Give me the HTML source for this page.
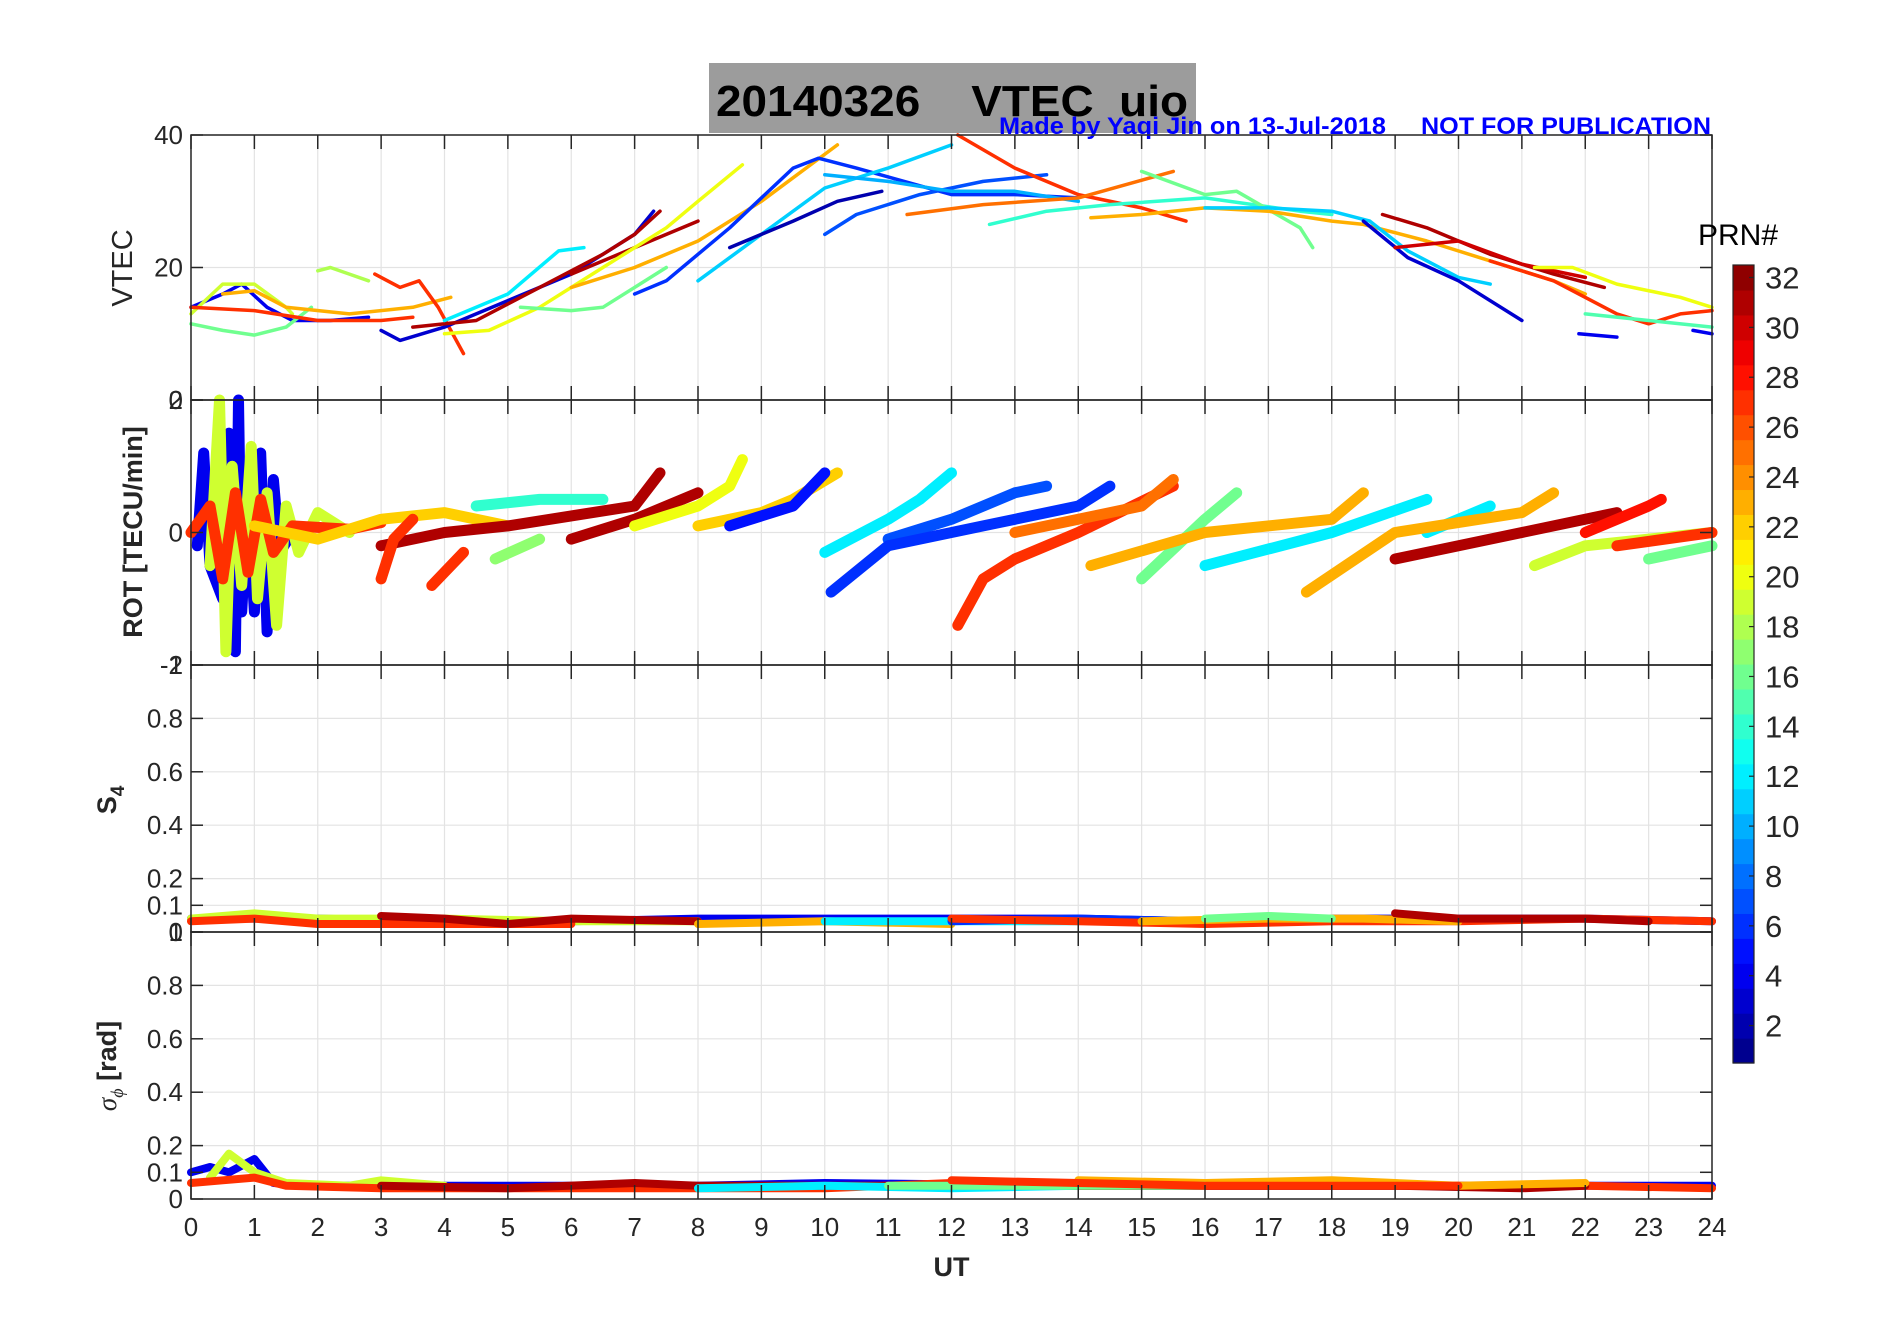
<!DOCTYPE html>
<html><head><meta charset="utf-8"><style>
html,body{margin:0;padding:0;background:#fff;}
svg{display:block;}
text{white-space:pre;}
</style></head><body>
<svg id="fig" width="1902" height="1330" viewBox="0 0 1902 1330" xmlns="http://www.w3.org/2000/svg" font-family="'Liberation Sans', sans-serif" xml:space="preserve">
<rect x="0" y="0" width="1902" height="1330" fill="#fff"/>
<rect x="709" y="63" width="487" height="70" fill="#9c9c9c"/>
<text x="716" y="116" font-family="'Liberation Sans Narrow','Liberation Sans',sans-serif" font-weight="bold" font-size="44" textLength="472" lengthAdjust="spacingAndGlyphs" fill="#000">20140326    VTEC  uio</text>
<text x="999" y="134" font-family="'Liberation Sans Narrow','Liberation Sans',sans-serif" font-weight="bold" font-size="24" textLength="387" lengthAdjust="spacingAndGlyphs" fill="#0000ff">Made by Yaqi Jin on 13-Jul-2018</text>
<text x="1421" y="134" font-family="'Liberation Sans Narrow','Liberation Sans',sans-serif" font-weight="bold" font-size="24" textLength="290" lengthAdjust="spacingAndGlyphs" fill="#0000ff">NOT FOR PUBLICATION</text>
<g id="plots"></g>
</svg>
<script>
// ---------------- data ----------------
const hourTicks = [0,1,2,3,4,5,6,7,8,9,10,11,12,13,14,15,16,17,18,19,20,21,22,23,24];
const vtecTicks = [0,20,40];
const rotTicks = [-2,0,2];
const s4Ticks = [0,0.1,0.2,0.4,0.6,0.8,1];
const sigTicks = [0,0.1,0.2,0.4,0.6,0.8,1];
const cbarTicks = [2,4,6,8,10,12,14,16,18,20,22,24,26,28,30,32];

// VTEC arcs: PRN and [UT, TEC] points
const vtecPrn = [4,16,18,19,27,23,27,3,31,31,12,20,16,23,6,11,2,7,10,27,25,14,16,23,11,3,31,30,20,27,15,4,4];
const vtecArcs = [
 [[0,14],[0.5,16],[0.8,17.5],[1.2,14],[1.6,12],[2.2,12],[2.8,12.5]],
 [[0,11.5],[0.5,10.5],[1,9.8],[1.5,11],[1.9,14]],
 [[2,19.5],[2.2,20],[2.5,19],[2.8,18]],
 [[0,13],[0.5,17.5],[1,17.5],[1.5,14],[1.6,13]],
 [[0,14],[1,13.5],[2,12],[3,12],[3.5,12.5]],
 [[0.5,16],[1,16.5],[1.5,14],[2.5,13],[3.5,14],[4.1,15.5]],
 [[2.9,19],[3.3,17],[3.6,18],[3.9,14],[4.3,7]],
 [[3,10.5],[3.3,9],[4,11],[5,15],[6,19],[7,25],[7.3,28.5]],
 [[3.5,11],[4.5,12],[5.5,17],[6.5,22],[7,25],[7.4,28.5]],
 [[6,19],[7,23],[7.5,25],[8,27]],
 [[4,12],[5,16],[5.8,22.5],[6.2,23]],
 [[4,10],[4.7,10.5],[5.5,14],[6.5,20],[7.5,26],[8,30],[8.7,35.5]],
 [[5.2,14],[6,13.5],[6.5,14],[7.5,20]],
 [[6,17],[7,20],[8,24],[9,30],[10.2,38.5]],
 [[7,16],[7.5,18],[8.5,26],[9.5,35],[9.9,36.5],[10.5,35],[12,31],[13,31],[14,30.5]],
 [[8,18],[9,25],[10,32],[11,35],[12,38.5]],
 [[8.5,23],[9.5,27],[10.2,30],[10.9,31.5]],
 [[10,25],[10.5,28],[11.5,31],[12.5,33],[13.5,34]],
 [[10,34],[11,33],[12,31.5],[13,31.5],[14,30]],
 [[12.1,40],[13,35],[14,31],[15,29],[15.7,27]],
 [[11.3,28],[12.5,29.5],[14,30.5],[15.5,34.5]],
 [[12.6,26.5],[13.5,28.5],[14.5,29.5],[16,30.5],[17.5,28.5],[18,28]],
 [[15,34.5],[16,31],[16.5,31.5],[17.5,26],[17.7,23]],
 [[14.2,27.5],[15,28],[16,29],[17,28.5],[18,27],[18.5,26.5],[19.5,24],[20.5,21],[21.5,18],[22,16]],
 [[16,29],[17,29],[18,28.5],[18.6,27],[19.2,22.5],[20,18.5],[20.5,17.5]],
 [[18.5,27],[19.2,21.5],[20,18],[21,12]],
 [[18.8,28],[19.5,26],[20.5,22],[21.5,19],[22.3,17]],
 [[19,23],[20,24],[21,20.5],[22,18.5]],
 [[21.2,20],[21.8,20],[22.5,17.5],[23.5,15.5],[24,14]],
 [[20.5,21],[21.5,18],[22.5,13],[23,11.5],[23.5,13],[24,13.5]],
 [[22,13],[23,12],[24,11]],
 [[21.9,10],[22.5,9.5]],
 [[23.7,10.5],[24,10]]
];

// ROT arcs: PRN and [UT, ROT] points
const rotPrn = [4,19,27,22,14,31,31,20,22,5,12,7,6,27,25,16,23,12,12,23,31,28,19,27,16,27,27,17];
const rotArcs = [
 [[0.1,-0.2],[0.2,1.2],[0.3,-0.5],[0.5,-1],[0.6,1.5],[0.7,-1.8],[0.75,2],[0.8,-1.2],[0.9,0.5],[1,-1.2],[1.1,1.2],[1.2,-1.5],[1.3,0.8],[1.4,-0.3],[1.6,0]],
 [[0.3,-0.5],[0.45,2],[0.55,-1.8],[0.65,1],[0.8,-0.8],[0.95,1.3],[1.05,-1],[1.2,0.6],[1.35,-1.4],[1.5,0.4],[1.7,-0.3],[2,0.3],[2.5,0]],
 [[0,0],[0.3,0.4],[0.5,-0.7],[0.7,0.6],[0.9,-0.6],[1.1,0.5],[1.3,-0.3],[1.6,0.1],[2.5,0.05],[3,0.15]],
 [[1,0.1],[2,-0.1],[3,0.2],[4,0.3],[5,0.1]],
 [[4.5,0.4],[5.5,0.5],[6.5,0.5]],
 [[3,-0.2],[4,0],[5,0.1],[6,0.25],[7,0.4],[7.4,0.9]],
 [[6,-0.1],[7,0.2],[8,0.6]],
 [[7,0.1],[8,0.4],[8.5,0.7],[8.7,1.1]],
 [[8,0.1],[9,0.3],[9.5,0.5],[10.2,0.9]],
 [[8.5,0.1],[9.5,0.4],[10,0.9]],
 [[10,-0.3],[11,0.2],[11.5,0.5],[12,0.9]],
 [[11,-0.1],[12,0.2],[13,0.6],[13.5,0.7]],
 [[10.1,-0.9],[11,-0.2],[12.5,0.1],[14,0.4],[14.5,0.7]],
 [[12.1,-1.4],[12.5,-0.7],[13,-0.4],[14,0],[15.5,0.7]],
 [[13,0],[14,0.2],[15,0.4],[15.5,0.8]],
 [[15,-0.7],[16,0.2],[16.5,0.6]],
 [[14.2,-0.5],[16,0],[18,0.2],[18.5,0.6]],
 [[16,-0.5],[18,0],[19.5,0.5]],
 [[19.5,0],[20.5,0.4]],
 [[17.6,-0.9],[19,0],[21,0.3],[21.5,0.6]],
 [[19,-0.4],[21,0],[22.5,0.3]],
 [[22,0],[23,0.4],[23.2,0.5]],
 [[21.2,-0.5],[22,-0.2],[24,0]],
 [[22.5,-0.2],[24,0]],
 [[23,-0.4],[24,-0.2]],
 [[3,-0.7],[3.2,-0.1],[3.5,0.2]],
 [[3.8,-0.8],[4.3,-0.3]],
 [[4.8,-0.4],[5.5,-0.1]]
];

// S4 arcs: PRN and [UT, S4]
const s4Prn = [4,19,27,31,23,12,6,27,23,31,16];
const s4Arcs = [
 [[0,0.05],[2,0.05],[4,0.04],[6,0.04],[8,0.05],[10,0.05],[12,0.05],[14,0.05],[16,0.04],[18,0.05],[20,0.05],[22,0.05],[24,0.04]],
 [[0,0.05],[1,0.07],[2,0.05],[4,0.05],[6,0.04],[8,0.04]],
 [[0,0.04],[1,0.05],[2,0.03],[4,0.03],[6,0.03]],
 [[3,0.06],[4,0.05],[5,0.03],[6,0.05],[8,0.04]],
 [[8,0.03],[10,0.04],[12,0.03]],
 [[10,0.04],[12,0.04],[14,0.04]],
 [[12,0.04],[14,0.05],[16,0.04],[18,0.05]],
 [[12,0.05],[14,0.04],[16,0.03],[18,0.04],[20,0.04],[22,0.05],[24,0.04]],
 [[15,0.04],[17,0.05],[18.5,0.05],[20,0.04]],
 [[19,0.07],[20,0.05],[22,0.05],[23,0.04]],
 [[16,0.05],[17,0.06],[18,0.05]]
];

// sigma-phi arcs: PRN and [UT, sigma]
const sigPrn = [4,19,27,31,12,23,16,27];
const sigArcs = [
 [[0,0.1],[0.3,0.12],[0.6,0.1],[1,0.15],[1.3,0.06],[2,0.05],[4,0.05],[8,0.05],[10,0.06],[14,0.05],[18,0.05],[24,0.05]],
 [[0.3,0.08],[0.6,0.17],[1,0.1],[1.5,0.06],[2.5,0.05],[3,0.07],[4,0.05]],
 [[0,0.06],[0.5,0.07],[1,0.08],[1.5,0.05],[3,0.04],[6,0.04],[10,0.04],[12,0.06],[14,0.05],[18,0.05],[22,0.05],[24,0.04]],
 [[3,0.05],[5,0.04],[7,0.06],[8,0.05],[19,0.05],[21,0.04],[22,0.05]],
 [[8,0.04],[10,0.05],[12,0.04],[14,0.05]],
 [[14,0.07],[16,0.06],[18,0.07],[20,0.05],[22,0.06]],
 [[11,0.05],[13,0.05],[16,0.05]],
 [[12,0.07],[14,0.06],[16,0.05],[20,0.05]]
];

// ---------------- layout ----------------
const NS = 'http://www.w3.org/2000/svg';
const L = 191, R = 1712;
const panels = [
  {top:135, bot:400, min:0, max:40},
  {top:400, bot:665, min:-2, max:2},
  {top:665, bot:932, min:0, max:1},
  {top:932, bot:1199, min:0, max:1}
];
function xs(t){ return L + t*(R-L)/24; }
function ys(p,v){ return p.bot - (v-p.min)/(p.max-p.min)*(p.bot-p.top); }
function jet(n){
  const v = (n-0.5)/32;
  const c = x => Math.round(255*Math.max(0,Math.min(1,x)));
  return 'rgb('+c(1.5-Math.abs(4*v-3))+','+c(1.5-Math.abs(4*v-2))+','+c(1.5-Math.abs(4*v-1))+')';
}
const root = document.getElementById('plots');
function mk(tag, attrs, parent){
  const e = document.createElementNS(NS, tag);
  for (const k in attrs) e.setAttribute(k, attrs[k]);
  (parent||root).appendChild(e);
  return e;
}
const narrow = "'Liberation Sans Narrow','Liberation Sans',sans-serif";

// grids
panels.forEach((p, pi) => {
  const g = mk('g', {});
  
  
  hourTicks.forEach(h => {
    const ln = mk('line', {x1:xs(h), x2:xs(h), y1:p.top, y2:p.bot, stroke:'#e3e3e3', 'stroke-width':1.2}, g);
    
    
  });
  const tk = [vtecTicks, rotTicks, s4Ticks, sigTicks][pi];
  tk.forEach(v => {
    const ln = mk('line', {x1:L, x2:R, y1:ys(p,v), y2:ys(p,v), stroke:'#e3e3e3', 'stroke-width':1.2}, g);
    
    
  });
});

// series
function drawArcs(p, arcs, prns, width, name){
  const g = mk('g', {'stroke-linejoin':'round', 'stroke-linecap':'round', fill:'none'});
  
  
  arcs.forEach((arc, i) => {
    const pts = arc.map(q => xs(q[0]).toFixed(1) + ',' + ys(p, q[1]).toFixed(1)).join(' ');
    const pl = mk('polyline', {points:pts, stroke:jet(prns[i]), 'stroke-width':width}, g);
    
    
  });
}
drawArcs(panels[0], vtecArcs, vtecPrn, 3.5, 'vtec');
drawArcs(panels[1], rotArcs, rotPrn, 11, 'rot');
drawArcs(panels[2], s4Arcs, s4Prn, 8, 's4');
drawArcs(panels[3], sigArcs, sigPrn, 8, 'sigma');

// axes frames and ticks
panels.forEach((p, pi) => {
  const g = mk('g', {});
  
  
  const fr = mk('rect', {x:L, y:p.top, width:R-L, height:p.bot-p.top, fill:'none', stroke:'#262626', 'stroke-width':1.5}, g);
  
  
  hourTicks.forEach(h => {
    const a = mk('line', {x1:xs(h), x2:xs(h), y1:p.top, y2:p.top+14, stroke:'#262626', 'stroke-width':1.5}, g);
    
    
    const b = mk('line', {x1:xs(h), x2:xs(h), y1:p.bot, y2:p.bot-14, stroke:'#262626', 'stroke-width':1.5}, g);
    
    
  });
  const tk = [vtecTicks, rotTicks, s4Ticks, sigTicks][pi];
  tk.forEach(v => {
    const t = mk('text', {x:L-8, y:ys(p,v)+9, 'text-anchor':'end', 'font-size':26, 'font-family':narrow, fill:'#262626'}, g);
    
    
    t.textContent = String(v);
    const a = mk('line', {x1:L, x2:L+12, y1:ys(p,v), y2:ys(p,v), stroke:'#262626', 'stroke-width':1.5}, g);
    
    
    const b = mk('line', {x1:R, x2:R-12, y1:ys(p,v), y2:ys(p,v), stroke:'#262626', 'stroke-width':1.5}, g);
    
    
  });
});

// x tick labels
hourTicks.forEach(h => {
  const t = mk('text', {x:xs(h), y:1236, 'text-anchor':'middle', 'font-size':26, 'font-family':narrow, fill:'#262626'});
  
  
  t.textContent = String(h);
});
const ut = mk('text', {x:(L+R)/2, y:1276, 'text-anchor':'middle', 'font-size':27, 'font-weight':'bold', fill:'#262626'});


ut.textContent = 'UT';

// y axis titles
function ylab(txt, x, y, size, bold, name){
  const t = mk('text', {x:x, y:y, transform:'rotate(-90 '+x+' '+y+')', 'text-anchor':'middle', 'font-size':size, 'font-weight':bold?'bold':'normal', fill:'#262626'});
  
  
  t.textContent = txt;
  return t;
}
ylab('VTEC', 132, 268, 29, false, 'vtec-axis-title');
ylab('ROT [TECU/min]', 142, 532, 27, true, 'rot-axis-title');
const s4t = ylab('S', 116, 800, 27, true, 's4-axis-title');
const s4sub = mk('tspan', {dy:8, 'font-size':19}, s4t);


s4sub.textContent = '4';
const sgt = ylab('', 116, 1066, 27, true, 'sigma-axis-title');
const sg1 = mk('tspan', {'font-style':'italic', 'font-weight':'normal', 'font-family':"'Liberation Serif',serif"}, sgt);


sg1.textContent = 'σ';
const sg2 = mk('tspan', {dy:7, 'font-size':18, 'font-style':'italic', 'font-weight':'normal', 'font-family':"'Liberation Serif',serif"}, sgt);


sg2.textContent = 'ϕ';
const sg3 = mk('tspan', {dy:-7}, sgt);


sg3.textContent = ' [rad]';

// colorbar
const cbTop = 265, cbBot = 1063, cbL = 1733, cbW = 21;
const cg = mk('g', {});


for (let n = 1; n <= 32; n++) {
  const h = (cbBot-cbTop)/32;
  const r = mk('rect', {x:cbL, y:cbBot - n*h, width:cbW, height:h+0.6, fill:jet(n)}, cg);
  
  
}
const cbf = mk('rect', {x:cbL, y:cbTop, width:cbW, height:cbBot-cbTop, fill:'none', stroke:'#262626', 'stroke-width':1.2}, cg);


cbarTicks.forEach(v => {
  const y = cbBot - (v-0.5)/32*(cbBot-cbTop);
  const t = mk('text', {x:1765, y:y+11, 'font-size':31, fill:'#262626'}, cg);
  
  
  t.textContent = String(v);
  const a = mk('line', {x1:cbL+cbW-5, x2:cbL+cbW, y1:y, y2:y, stroke:'#262626', 'stroke-width':1.2}, cg);
  
  
});
const prnT = mk('text', {x:1698, y:245, 'font-size':30, fill:'#000'}, cg);


prnT.textContent = 'PRN#';
</script>
</body></html>
